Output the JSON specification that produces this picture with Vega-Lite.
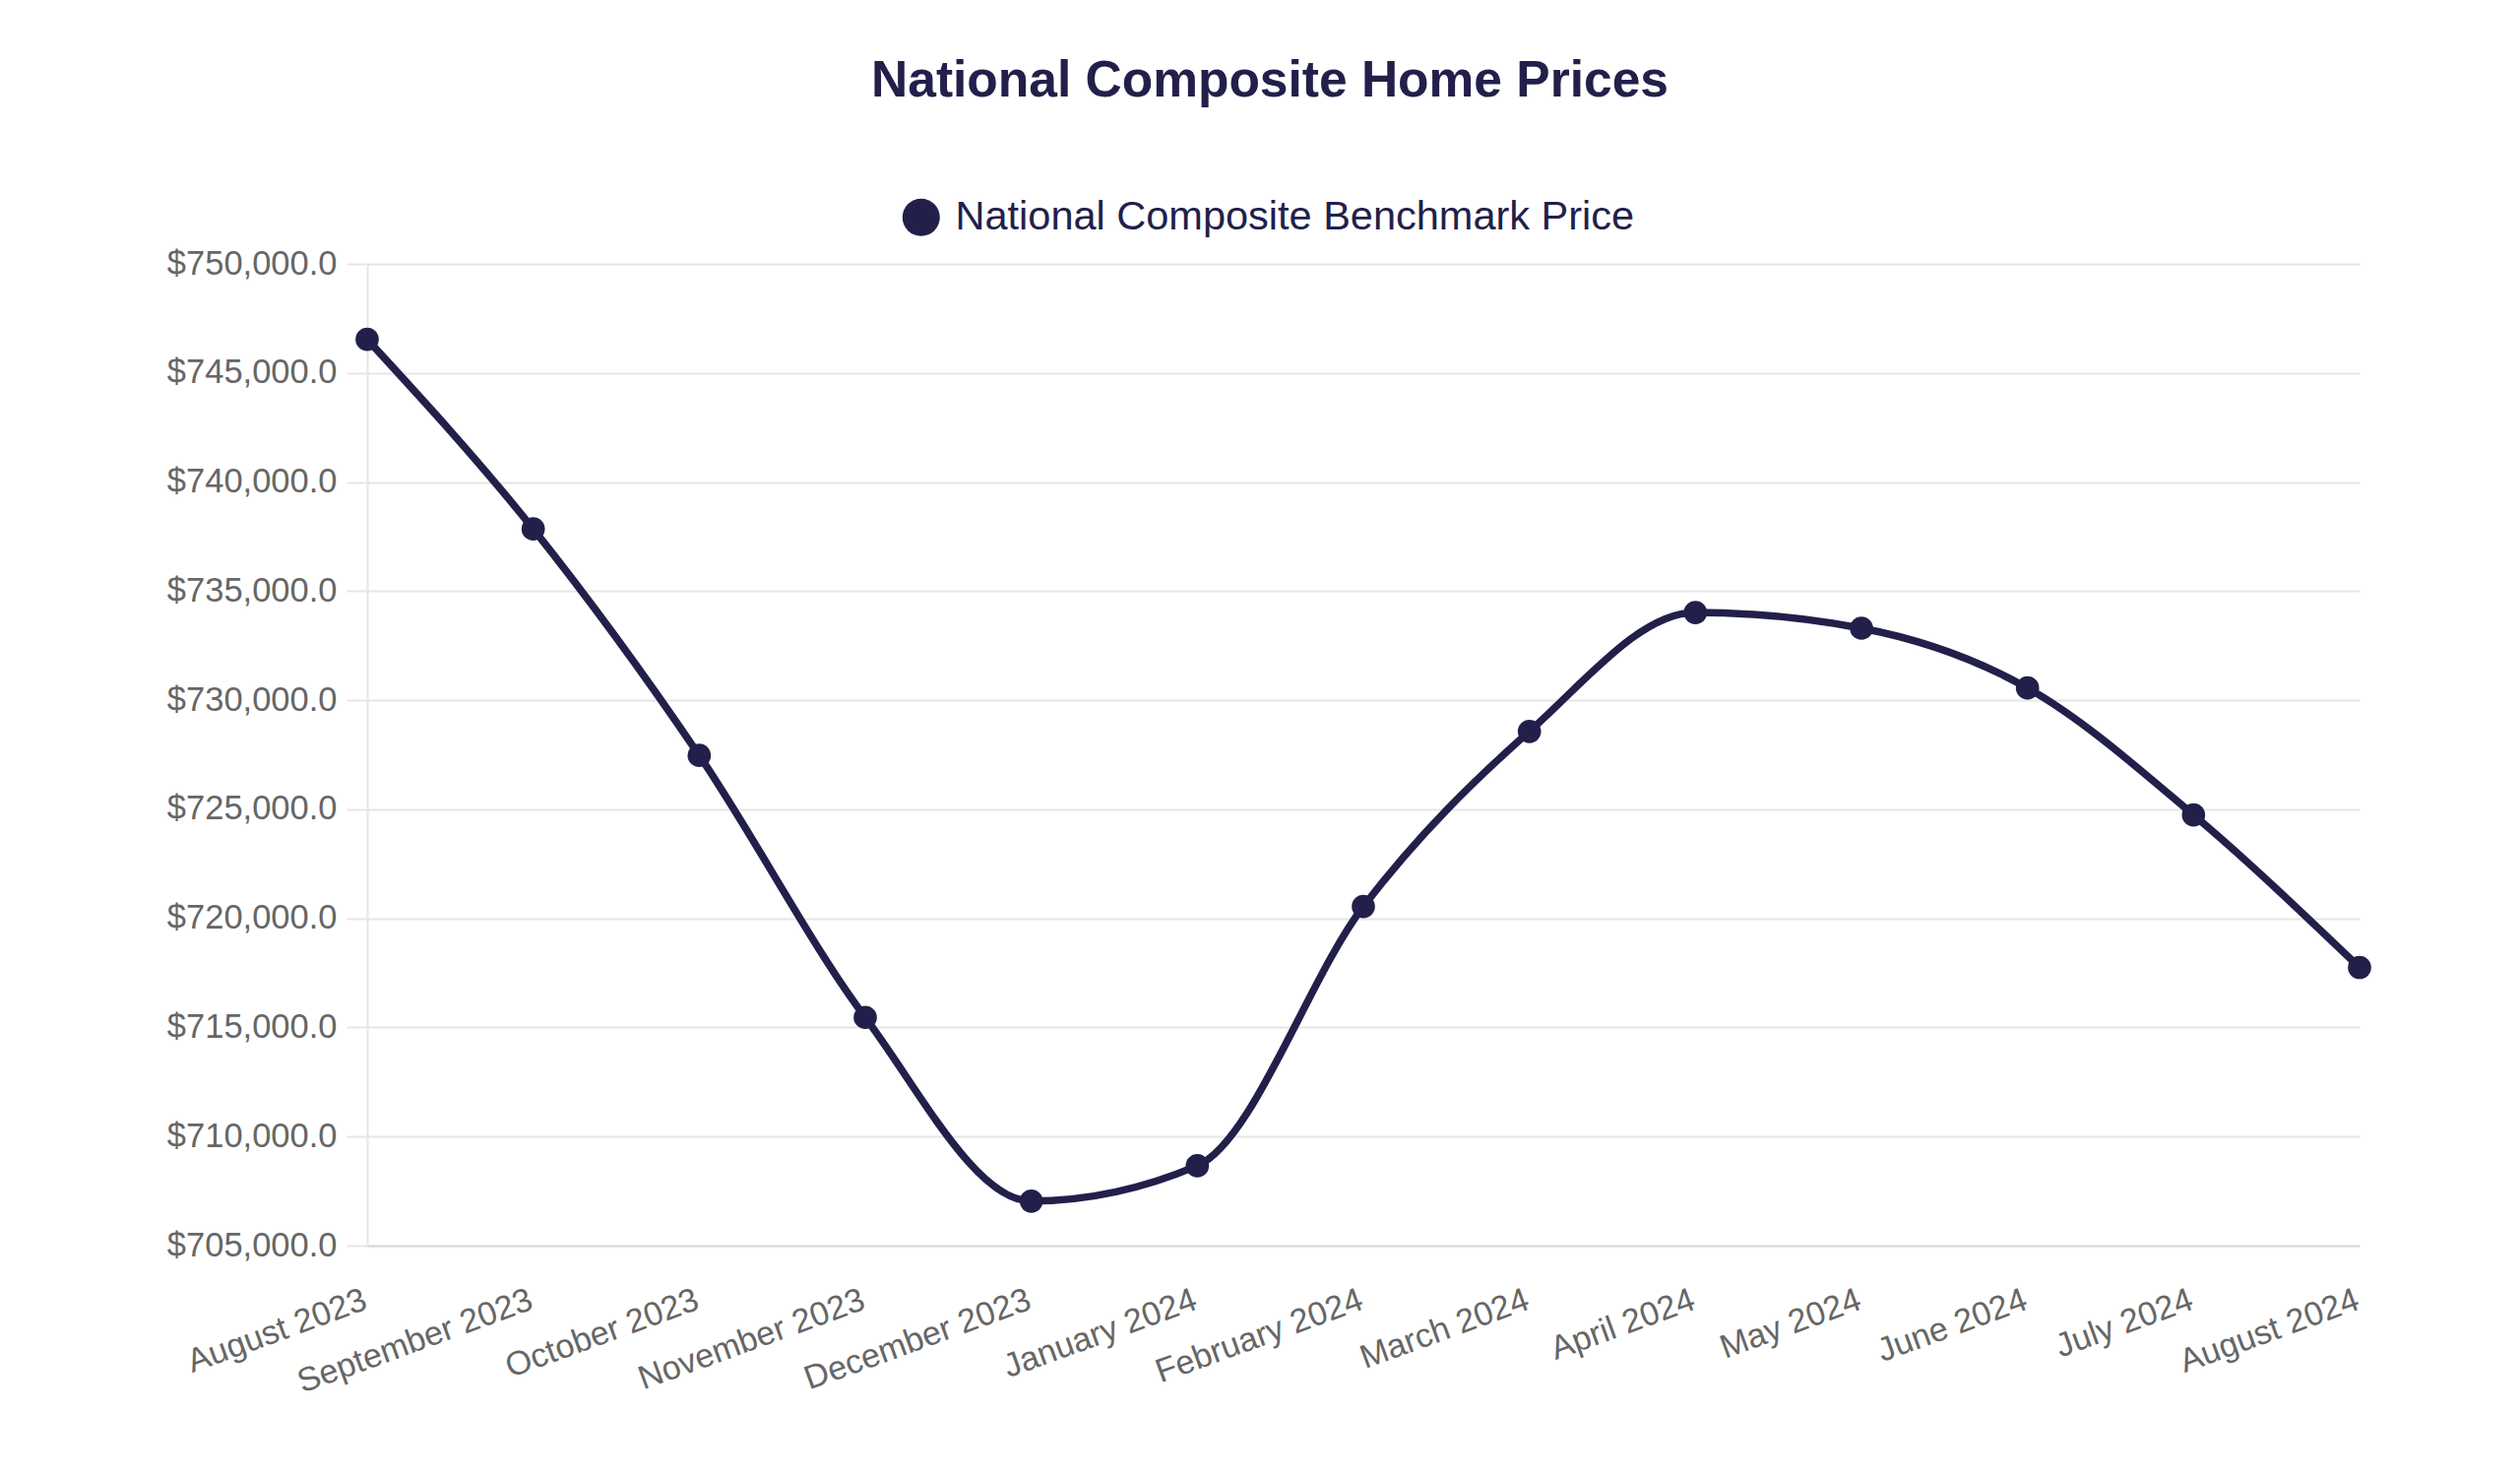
{
  "$schema": "https://vega.github.io/schema/vega-lite/v6.json",
  "width": 2024,
  "height": 997,
  "autosize": {"type": "none"},
  "padding": {"left": 373, "top": 268, "right": 163, "bottom": 236},
  "background": "white",
  "title": {
    "text": "National Composite Home Prices",
    "font": "Liberation Sans",
    "fontSize": 51.5,
    "fontWeight": "bold",
    "color": "#22204a",
    "anchor": "middle",
    "frame": "group",
    "dx": -95,
    "offset": 92
  },
  "data": {
    "values": [
      {"month": "August 2023", "price": 746540, "series": "National Composite Benchmark Price"},
      {"month": "September 2023", "price": 737850, "series": "National Composite Benchmark Price"},
      {"month": "October 2023", "price": 727470, "series": "National Composite Benchmark Price"},
      {"month": "November 2023", "price": 715460, "series": "National Composite Benchmark Price"},
      {"month": "December 2023", "price": 707040, "series": "National Composite Benchmark Price"},
      {"month": "January 2024", "price": 708660, "series": "National Composite Benchmark Price"},
      {"month": "February 2024", "price": 720545, "series": "National Composite Benchmark Price"},
      {"month": "March 2024", "price": 728570, "series": "National Composite Benchmark Price"},
      {"month": "April 2024", "price": 734020, "series": "National Composite Benchmark Price"},
      {"month": "May 2024", "price": 733300, "series": "National Composite Benchmark Price"},
      {"month": "June 2024", "price": 730560, "series": "National Composite Benchmark Price"},
      {"month": "July 2024", "price": 724740, "series": "National Composite Benchmark Price"},
      {"month": "August 2024", "price": 717750, "series": "National Composite Benchmark Price"}
    ]
  },
  "encoding": {
    "x": {
      "field": "month",
      "type": "ordinal",
      "sort": null,
      "scale": {"type": "point", "padding": 0},
      "axis": {
        "title": null,
        "labelAngle": -20,
        "labelAlign": "right",
        "labelBaseline": "top",
        "labelFont": "Liberation Sans",
        "labelFontSize": 34,
        "labelColor": "#666666",
        "labelPadding": 38,
        "labelOffset": -8,
        "labelLimit": 0,
        "labelOverlap": false,
        "ticks": false,
        "grid": false,
        "domainColor": "#d9d9d9",
        "domainWidth": 2
      }
    },
    "y": {
      "field": "price",
      "type": "quantitative",
      "scale": {"domain": [705000, 750000], "nice": false, "zero": false},
      "axis": {
        "title": null,
        "values": [705000, 710000, 715000, 720000, 725000, 730000, 735000, 740000, 745000, 750000],
        "format": "$,.1f",
        "labelFont": "Liberation Sans",
        "labelFontSize": 34.5,
        "labelColor": "#666666",
        "labelPadding": 10,
        "labelLimit": 0,
        "tickSize": 21,
        "tickColor": "#e6e6e6",
        "tickWidth": 2,
        "gridColor": "#e6e6e6",
        "gridWidth": 2,
        "domainColor": "#e6e6e6",
        "domainWidth": 2
      }
    },
    "color": {
      "field": "series",
      "type": "nominal",
      "scale": {"range": ["#22204a"]},
      "legend": {
        "title": null,
        "orient": "none",
        "legendX": 542,
        "legendY": -68,
        "padding": 0,
        "symbolType": "circle",
        "symbolSize": 1450,
        "symbolStrokeWidth": 0,
        "labelFont": "Liberation Sans",
        "labelFontSize": 41.5,
        "labelColor": "#22204a",
        "labelOffset": 14,
        "labelLimit": 0
      }
    }
  },
  "layer": [
    {
      "mark": {"type": "line", "interpolate": "monotone", "strokeWidth": 7.5}
    },
    {
      "mark": {"type": "point", "filled": true, "opacity": 1, "size": 560}
    }
  ],
  "config": {"view": {"stroke": null}}
}
